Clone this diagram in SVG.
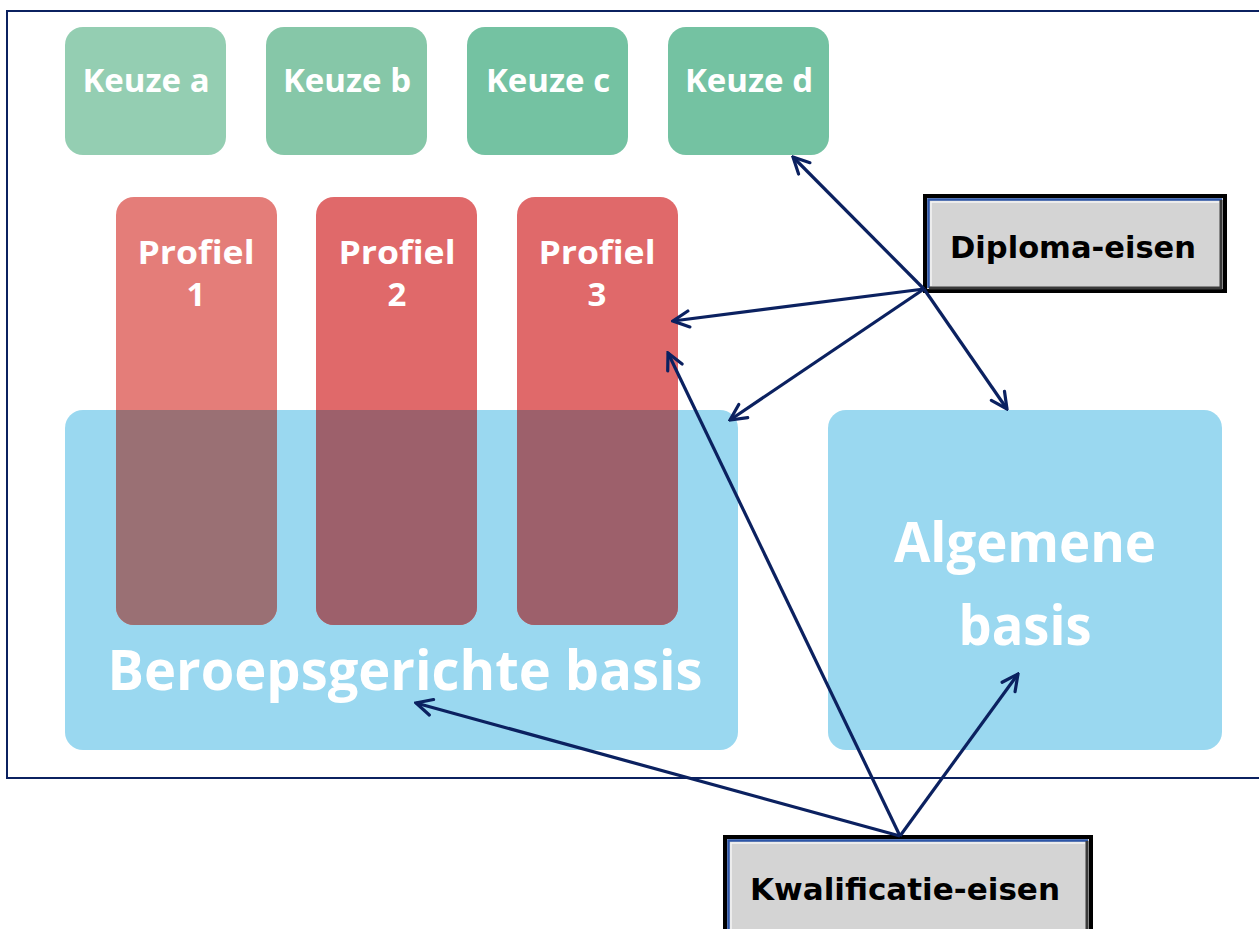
<svg xmlns="http://www.w3.org/2000/svg" width="1259" height="929" viewBox="0 0 1259 929">
<style>
.k{font-family:"Open Sans","DejaVu Sans",sans-serif;font-weight:bold;fill:#fff;font-size:33px;text-anchor:middle}
.p{font-family:"Open Sans","DejaVu Sans",sans-serif;font-weight:bold;fill:#fff;font-size:33px;text-anchor:middle}
.big{font-family:"Open Sans","DejaVu Sans",sans-serif;font-weight:bold;fill:#fff;font-size:56px;text-anchor:middle}
.lbl{font-family:"DejaVu Sans","Liberation Sans",sans-serif;font-weight:bold;fill:#000;font-size:30px}
.con{stroke:#0b2160;stroke-width:3.2;fill:none;marker-end:url(#ah)}
</style>
<defs>
<marker id="ah" viewBox="0 0 20 20" refX="18" refY="10" markerWidth="20" markerHeight="20" orient="auto" markerUnits="userSpaceOnUse">
<polyline points="2,2 18,10 2,18" fill="none" stroke="#0b2160" stroke-width="3.2" stroke-linecap="round" stroke-linejoin="miter"/>
</marker>
</defs>
<rect x="0" y="0" width="1259" height="929" fill="#fff"/>
<rect x="7" y="11" width="1262" height="767" fill="none" stroke="#0b2160" stroke-width="2"/>

<g id="keuze-a"><rect x="65" y="27" width="161" height="128" rx="18" fill="#94ceb2"/><text class="k" x="146" y="92">Keuze a</text></g>
<g id="keuze-b"><rect x="266" y="27" width="161" height="128" rx="18" fill="#86c7a8"/><text class="k" x="347" y="92">Keuze b</text></g>
<g id="keuze-c"><rect x="467" y="27" width="161" height="128" rx="18" fill="#74c2a2"/><text class="k" x="548" y="92">Keuze c</text></g>
<g id="keuze-d"><rect x="668" y="27" width="161" height="128" rx="18" fill="#74c2a2"/><text class="k" x="749" y="92">Keuze d</text></g>

<g id="beroepsgerichte-basis"><rect x="65" y="410" width="673" height="340" rx="18" fill="#9ad8f0"/></g>
<g id="algemene-basis"><rect x="828" y="410" width="394" height="340" rx="18" fill="#9ad8f0"/>
<text class="big" x="1025" y="562" textLength="262" lengthAdjust="spacingAndGlyphs">Algemene</text>
<text class="big" x="1025" y="645" textLength="133" lengthAdjust="spacingAndGlyphs">basis</text></g>

<g id="profiel-1"><rect x="116" y="197" width="161" height="428" rx="18" fill="#e47d79"/>
<path d="M116,410 H277 V607 a18,18 0 0 1 -18,18 H134 a18,18 0 0 1 -18,-18 Z" fill="#9a7074"/>
<text class="p" x="196" y="264" textLength="117" lengthAdjust="spacingAndGlyphs">Profiel</text><text class="p" x="196" y="306">1</text></g>
<g id="profiel-2"><rect x="316" y="197" width="161" height="428" rx="18" fill="#e0696a"/>
<path d="M316,410 H477 V607 a18,18 0 0 1 -18,18 H334 a18,18 0 0 1 -18,-18 Z" fill="#9d606b"/>
<text class="p" x="397" y="264" textLength="117" lengthAdjust="spacingAndGlyphs">Profiel</text><text class="p" x="397" y="306">2</text></g>
<g id="profiel-3"><rect x="517" y="197" width="161" height="428" rx="18" fill="#e0696a"/>
<path d="M517,410 H678 V607 a18,18 0 0 1 -18,18 H535 a18,18 0 0 1 -18,-18 Z" fill="#9d606b"/>
<text class="p" x="597" y="264" textLength="117" lengthAdjust="spacingAndGlyphs">Profiel</text><text class="p" x="597" y="306">3</text></g>

<text class="big" x="405" y="690" textLength="595" lengthAdjust="spacingAndGlyphs">Beroepsgerichte basis</text>

<g id="diploma-eisen">
<rect x="925" y="196" width="300" height="95" fill="#d4d4d4" stroke="#000" stroke-width="4"/>
<path d="M928.5,288 V199.5 H1222" fill="none" stroke="#2d56a8" stroke-width="2.5"/>
<path d="M931,286 V202 H1219" fill="none" stroke="#f4f4f4" stroke-width="1.5"/>
<path d="M1221,200 V288 H929" fill="none" stroke="#3a3a3a" stroke-width="3"/>
<text class="lbl" x="950" y="258" textLength="246" lengthAdjust="spacingAndGlyphs">Diploma-eisen</text>
</g>
<g id="kwalificatie-eisen">
<rect x="725" y="837" width="366" height="100" fill="#d4d4d4" stroke="#000" stroke-width="4"/>
<path d="M728.5,936 V840.5 H1088" fill="none" stroke="#2d56a8" stroke-width="2.5"/>
<path d="M731,936 V843 H1085" fill="none" stroke="#f4f4f4" stroke-width="1.5"/>
<path d="M1087,841 V936" fill="none" stroke="#3a3a3a" stroke-width="3"/>
<text class="lbl" x="750" y="900" textLength="310" lengthAdjust="spacingAndGlyphs">Kwalificatie-eisen</text>
</g>

<g id="connectors">
<line class="con" x1="924" y1="289" x2="793" y2="157"/>
<line class="con" x1="924" y1="289" x2="673" y2="321"/>
<line class="con" x1="924" y1="289" x2="730" y2="420"/>
<line class="con" x1="924" y1="289" x2="1007" y2="409"/>
<line class="con" x1="900" y1="836" x2="416" y2="703"/>
<line class="con" x1="900" y1="836" x2="668" y2="353"/>
<line class="con" x1="900" y1="836" x2="1018" y2="674"/>
</g>
</svg>
